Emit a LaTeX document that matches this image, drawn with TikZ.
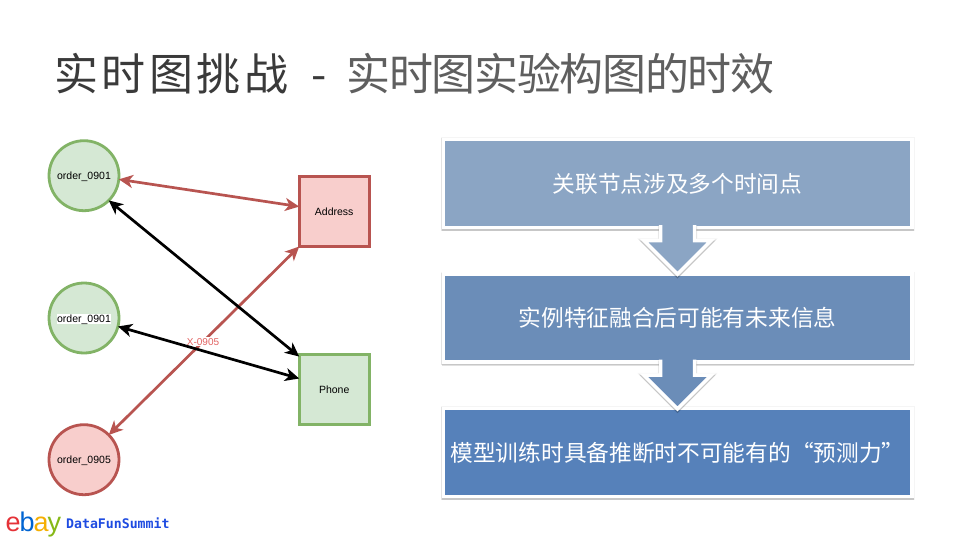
\documentclass[tikz,border=0pt]{standalone}
\usepackage{fontspec}
\setmainfont{Liberation Sans}
\newfontfamily\cjk{Noto Sans CJK SC}
\newfontfamily\titlewide[LetterSpace=8]{Noto Sans CJK SC}
\newfontfamily\titletight[LetterSpace=-3]{Noto Sans CJK SC}
\newfontfamily\logomono{DejaVu Sans Mono}
\usetikzlibrary{arrows.meta,shadows,calc}
\definecolor{gstroke}{HTML}{82B366}
\definecolor{gfill}{HTML}{D5E8D4}
\definecolor{rstroke}{HTML}{B85450}
\definecolor{rfill}{HTML}{F8CECC}
\definecolor{boxa}{HTML}{8BA5C4}
\definecolor{boxb}{HTML}{6B8DB8}
\definecolor{boxc}{HTML}{5681BA}
\definecolor{titlea}{HTML}{3A3A3A}
\definecolor{titleb}{HTML}{5F5F5F}
\tikzset{
  softshadow/.style={
    general shadow={shadow xshift=0pt,shadow yshift=-.5pt,draw=black,fill=black,line width=5.5pt,opacity=.04},
    general shadow={shadow xshift=0pt,shadow yshift=-1.2pt,draw=black,fill=black,line width=4.5pt,opacity=.07},
    general shadow={shadow xshift=0pt,shadow yshift=-1.8pt,draw=black,fill=black,line width=3.5pt,opacity=.12}},
  lab/.style={text height=8pt,text depth=0pt,font=\fontsize{10.5}{12}\selectfont},
  circ/.style={circle,minimum size=70pt,inner sep=0pt,outer sep=0pt,line width=2.8pt,lab},
  sq/.style={rectangle,minimum size=70pt,inner sep=0pt,outer sep=0pt,line width=2.8pt,lab},
  greenn/.style={draw=gstroke,fill=gfill},
  redn/.style={draw=rstroke,fill=rfill},
  bothtips/.style={{Stealth[length=14pt,width=13pt,inset=4pt]}-{Stealth[length=14pt,width=13pt,inset=4pt]}},
  redline/.style={draw=rstroke,line width=2.7pt,bothtips},
  blackline/.style={draw=black,line width=2.7pt,bothtips},
  flowbox/.style={rectangle,draw=white,line width=3.5pt,minimum width=468.5pt,minimum height=88pt,inner sep=0pt,outer sep=0pt,text=white,text height=20pt,text depth=2.8pt,font=\cjk\fontsize{22.7}{26}\selectfont,softshadow},
}
\newcommand{\flowarrow}[2]{%
  \begin{scope}[shift={(#1.south)}]
    \filldraw[draw=white,fill=#2,line width=3.5pt,line join=miter,softshadow]
      (-17,-2.4) -- (-17,13.1) -- (-33.7,13.1) -- (0,46.8) -- (33.7,13.1) -- (17,13.1) -- (17,-2.4);
  \end{scope}}
\begin{document}
\begin{tikzpicture}[x=1pt,y=-1pt]
\useasboundingbox[fill=white] (0,0) rectangle (960,540);
\node[anchor=west,inner sep=0pt,font=\fontsize{44}{50}\selectfont] (title) at (54,74)
  {\textcolor{titlea}{\titlewide 实时图挑战\hspace{23pt}\cjk -\hspace{20pt}}\textcolor{titleb}{\titletight 实时图实验构图的时效}};
\node[circ,greenn] (oa) at (84,175.7) {order\_0901};
\node[circ,greenn] (ob) at (84,318) {\setlength{\fboxsep}{0pt}\colorbox{white}{order\_0901}};
\node[circ,redn] (oc) at (84,459.7) {order\_0905};
\node[sq,redn] (addr) at (334.2,211.5) {Address};
\node[sq,greenn] (phone) at (334.2,389.2) {Phone};
\draw[redline] (oa.-6) -- (addr.172);
\draw[redline] (oc.45) -- node[pos=.495,fill=white,inner sep=1pt,text=red!45!rstroke!75!white,font=\fontsize{10}{12}\selectfont] (xlab) {X-0905} (addr.225);
\draw[blackline] (oa.-45) -- (phone.137);
\draw[blackline] (ob.-14) -- (phone.163);
\node[flowbox,fill=boxa] (ba) at (677.5,183.4) {关联节点涉及多个时间点};
\node[flowbox,fill=boxb] (bb) at (677.5,318) {实例特征融合后可能有未来信息};
\node[flowbox,fill=boxc] (bc) at (677.5,452.4) {模型训练时具备推断时不可能有的“预测力”};
\flowarrow{ba}{boxa}
\flowarrow{bb}{boxb}
\node[anchor=base west,inner sep=0pt,font=\fontsize{27}{28}\selectfont] (ebay) at (5.5,531.5)
  {\textcolor[HTML]{E53238}{e}\kern-1pt\textcolor[HTML]{0064D2}{b}\kern-1pt\textcolor[HTML]{F5AF02}{a}\kern-1pt\textcolor[HTML]{86B817}{y}};
\node[anchor=west,inner sep=0pt,text={rgb,255:red,30;green,75;blue,225},font=\logomono\bfseries\fontsize{13.2}{14}\selectfont] (dfs) at (66,523.5) {DataFunSummit};
\end{tikzpicture}
\end{document}
